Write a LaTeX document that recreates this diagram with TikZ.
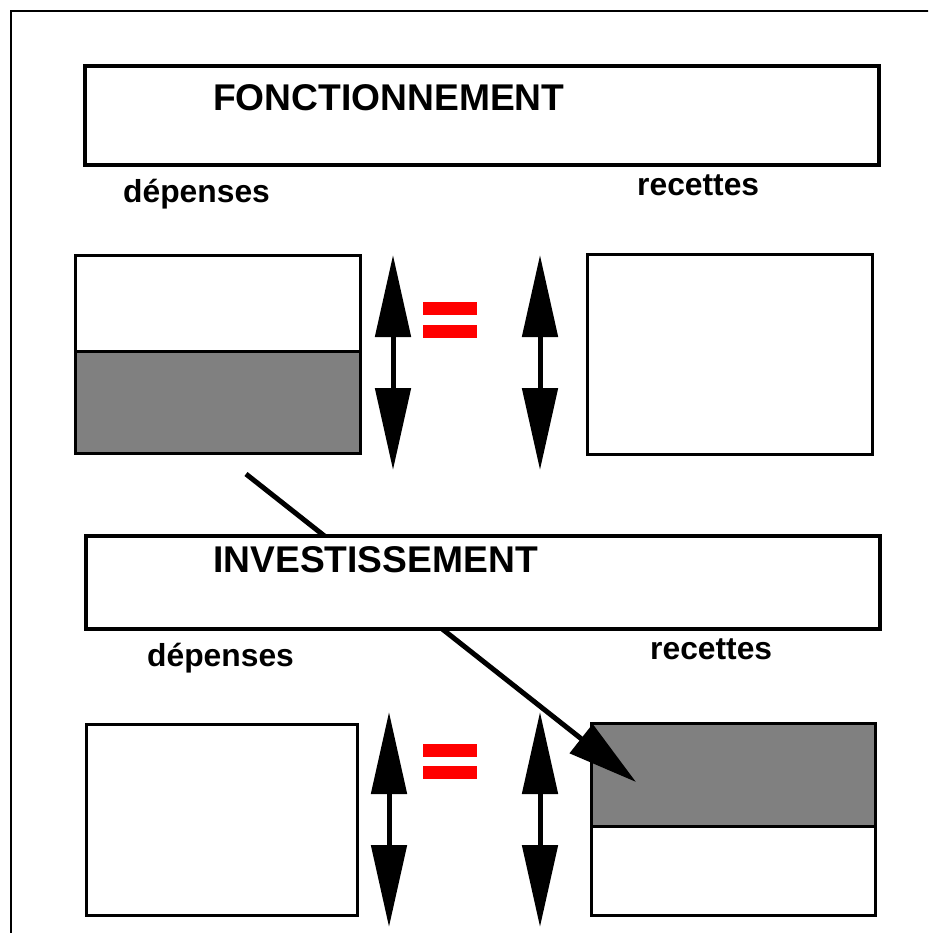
\documentclass[tikz,border=0pt]{standalone}
\usepackage{fontspec}
\setmainfont{Liberation Sans}
\usetikzlibrary{arrows.meta}
\definecolor{midgray}{HTML}{808080}
\definecolor{eqred}{HTML}{FF0000}
\begin{document}
\begin{tikzpicture}[x=1pt,y=-1pt,
  titlebox/.style={draw,line width=4.2pt,fill=white,inner sep=0pt,outer sep=0pt,anchor=north west},
  panel/.style={draw,line width=3pt,inner sep=0pt,outer sep=0pt,anchor=north west},
  shade/.style={panel,fill=midgray},
  titletext/.style={anchor=base west,inner sep=0pt,font=\fontsize{37.2}{40}\selectfont\bfseries},
  labeltext/.style={anchor=base west,inner sep=0pt,font=\fontsize{31.8}{34}\selectfont\bfseries},
  balance/.style={line width=5pt,{Triangle[length=82pt,width=35pt]}-{Triangle[length=82pt,width=35pt]}},
  transfer/.style={line width=5pt,-{Triangle[length=70pt,width=36pt]}},
  eqbar/.style={fill=eqred,inner sep=0pt,outer sep=0pt,anchor=north west,minimum width=54pt,minimum height=13pt}
]
\useasboundingbox (0,0) rectangle (928,933);
\clip (0,0) rectangle (928,933);
\draw[line width=2.8pt] (11,11) rectangle (960,960);

% FONCTIONNEMENT
\node[titlebox,minimum width=794pt,minimum height=99pt] (fonc) at (85,66) {};
\node[titletext] (foncT) at (213,111) {FONCTIONNEMENT};
\node[labeltext] (depFT) at (123,203) {dépenses};
\node[labeltext] (recFT) at (637,196) {recettes};
\node[panel,minimum width=285pt,minimum height=198pt] (depF) at (75,255) {};
\node[shade,minimum width=285pt,minimum height=102pt] (depFg) at (75,351) {};
\node[panel,minimum width=285pt,minimum height=200pt] (recF) at (587,254) {};
\coordinate (a1t) at (393,255); \coordinate (a1b) at (393,470);
\coordinate (a2t) at (540,255); \coordinate (a2b) at (540,470);
\draw[balance] (a1t) -- (a1b);
\draw[balance] (a2t) -- (a2b);
\node[eqbar] (eqF1) at (423,302) {};
\node[eqbar] (eqF2) at (423,324.5) {};

% INVESTISSEMENT
\node[labeltext] (depIT) at (147,666) {dépenses};
\node[labeltext] (recIT) at (650,659) {recettes};
\node[panel,minimum width=271pt,minimum height=191pt] (depI) at (86,724) {};
\node[panel,minimum width=284pt,minimum height=192pt] (recI) at (591,723) {};
\node[shade,minimum width=284pt,minimum height=103pt] (recIg) at (591,723) {};
\coordinate (a3t) at (389,712); \coordinate (a3b) at (389,927);
\coordinate (a4t) at (540,712); \coordinate (a4b) at (540,927);
\draw[balance] (a3t) -- (a3b);
\draw[balance] (a4t) -- (a4b);
\node[eqbar] (eqI1) at (423,743.5) {};
\node[eqbar] (eqI2) at (423,765.5) {};

% transfer
\coordinate (src) at (246,474);
\coordinate (dst) at (636,782);
\draw[transfer] (src) -- (dst);

\node[titlebox,minimum width=794pt,minimum height=93pt] (inv) at (86,536) {};
\node[titletext] (invT) at (213,572) {INVESTISSEMENT};
\end{tikzpicture}
\end{document}
